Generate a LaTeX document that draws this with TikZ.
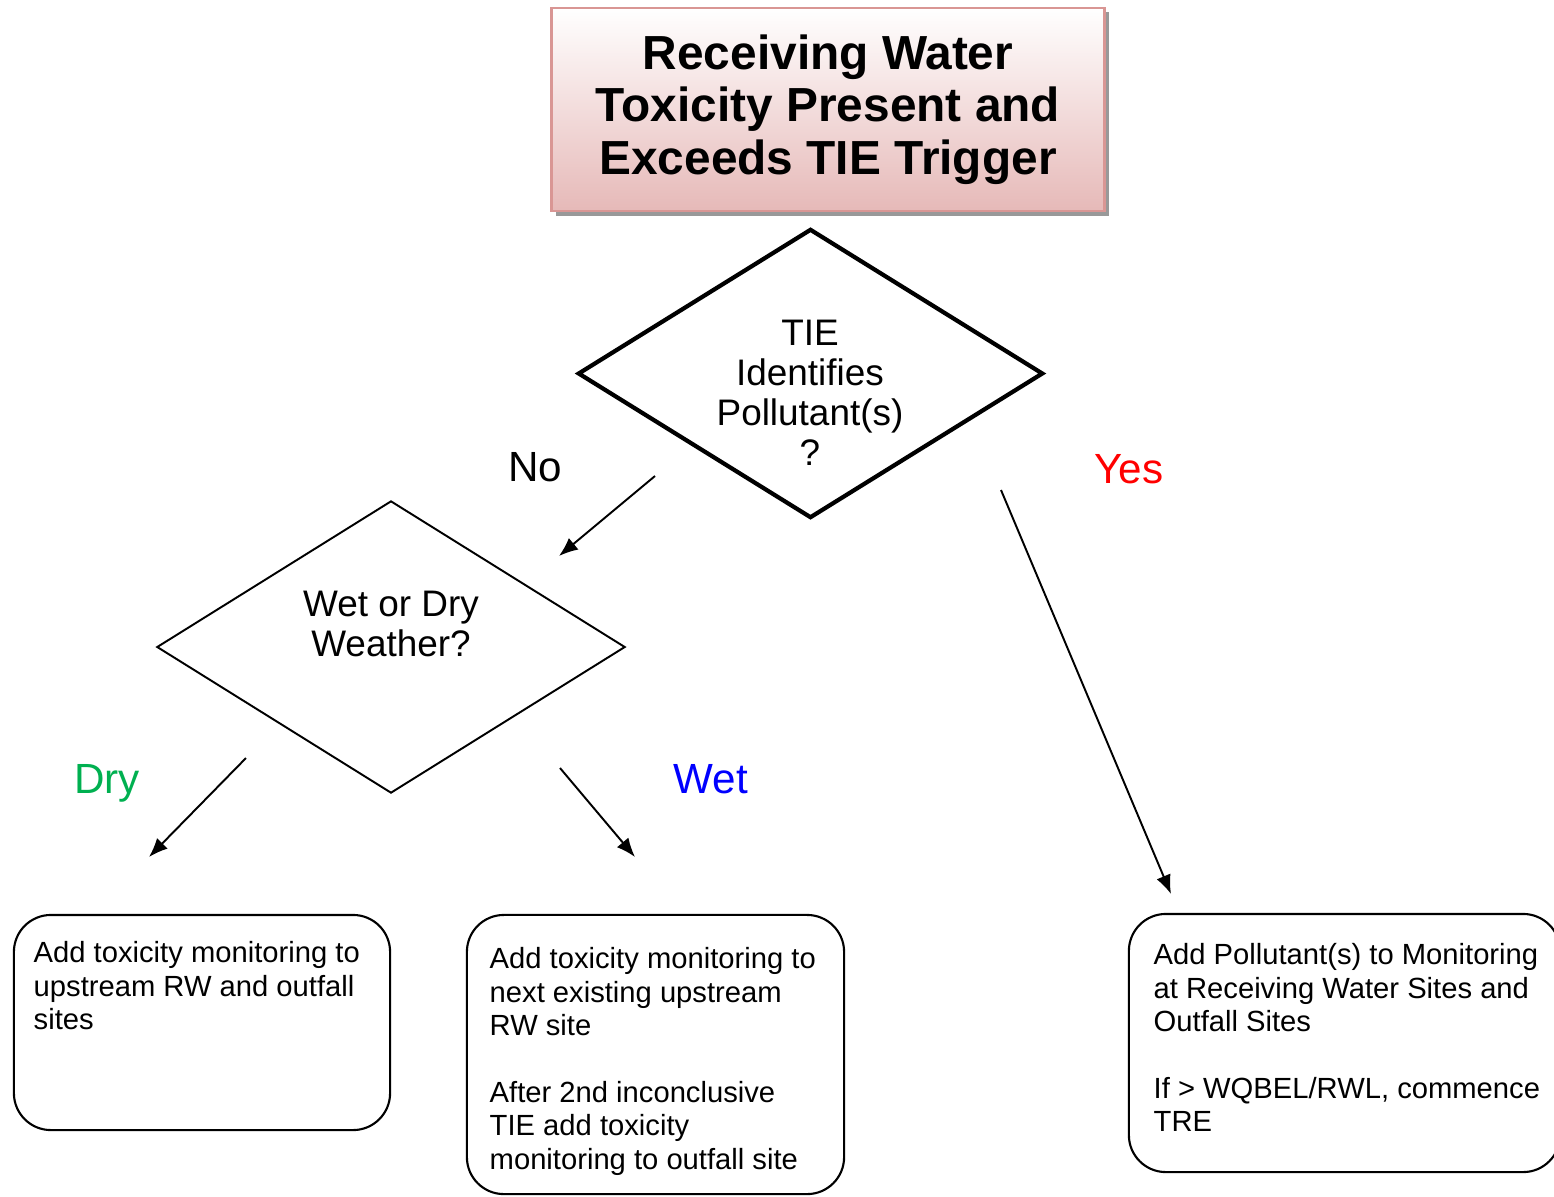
\documentclass[tikz,border=0pt]{standalone}
\usepackage{fontspec}
\setmainfont{Liberation Sans}
\usetikzlibrary{shapes.geometric,arrows.meta,shadows}

\definecolor{triggerpink}{HTML}{E6B9B8}
\definecolor{triggerborder}{HTML}{D99694}
\definecolor{yesred}{HTML}{FF0000}
\definecolor{drygreen}{HTML}{00B050}
\definecolor{wetblue}{HTML}{0000FF}

\begin{document}
\begin{tikzpicture}[x=0.01cm, y=-0.01cm,
    flowarrow/.style={-{Latex[length=1.9mm,width=1.5mm]}, line width=0.55pt},
    decision/.style={diamond, draw, inner sep=0pt},
    decisiontext/.style={anchor=north, inner sep=0pt, align=center, font=\fontsize{10.5}{11.4}\selectfont},
    actionbox/.style={draw, rounded corners=0.37cm, line width=0.6pt},
    actiontext/.style={anchor=north west, inner sep=0pt, align=left, font=\fontsize{8.3}{9.5}\selectfont},
    branchlabel/.style={inner sep=0pt, font=\fontsize{12}{14}\selectfont}]

        % Page size of the reference
        \useasboundingbox (0,0) rectangle (1554,1196);

        % Draw the trigger box on top
        \node[draw=triggerborder, line width=0.8pt, top color=white, bottom color=triggerpink,
              drop shadow={shadow xshift=0.45mm, shadow yshift=-0.45mm, fill=black!40, opacity=1},
              minimum width=5.52cm, minimum height=2.03cm, align=center,
              font=\bfseries\fontsize{13.6}{15}\selectfont] (trigger) at (828,109.5)
              {Receiving Water\\Toxicity Present and\\Exceeds TIE Trigger};

        % Draw the first decision (TIE result)
        \node[decision, line width=1.2pt, minimum width=4.65cm, minimum height=2.89cm] (tieq) at (810.5,373.5) {};
        \node[decisiontext] (tietext) at (810,319) {TIE\\Identifies\\Pollutant(s)\\?};

        % Draw the second decision (weather)
        \node[decision, line width=0.55pt, minimum width=4.68cm, minimum height=2.92cm] (weatherq) at (391,647) {};
        \node[decisiontext] (weathertext) at (391,590) {Wet or Dry\\Weather?};

        % Branch labels
        \node[branchlabel] (noLabel) at (535,467) {No};
        \node[branchlabel, text=yesred] (yesLabel) at (1129,469) {Yes};
        \node[branchlabel, text=drygreen] (dryLabel) at (107,783) {Dry};
        \node[branchlabel, text=wetblue] (wetLabel) at (711,779) {Wet};

        % Draw the action boxes
        \node[actionbox, minimum width=3.76cm, minimum height=2.15cm] (dryBox) at (202,1022.5) {};
        \node[actiontext] (dryText) at (33,941) {Add toxicity monitoring to\\upstream RW and outfall\\sites};

        \node[actionbox, minimum width=3.77cm, minimum height=2.79cm] (wetBox) at (655.5,1054.5) {};
        \node[actiontext] (wetText) at (489,947) {Add toxicity monitoring to\\next existing upstream\\RW site\\~\\After 2nd inconclusive\\TIE add toxicity\\monitoring to outfall site};

        \node[actionbox, minimum width=4.31cm, minimum height=2.58cm] (yesBox) at (1344.5,1043) {};
        \node[actiontext] (yesText) at (1153,943) {Add Pollutant(s) to Monitoring\\at Receiving Water Sites and\\Outfall Sites\\~\\If > WQBEL/RWL, commence\\TRE};

        % Arrow ends
        \coordinate (noFrom) at (655,476);
        \coordinate (noTo) at (559,556);
        \coordinate (yesFrom) at (1001,490);
        \coordinate (yesTo) at (1171,894);
        \coordinate (dryFrom) at (246,758);
        \coordinate (dryTo) at (149,857);
        \coordinate (wetFrom) at (560,768);
        \coordinate (wetTo) at (635,857);

        % Draw the arrows
        \draw[flowarrow] (noFrom) -- (noTo);
        \draw[flowarrow] (yesFrom) -- (yesTo);
        \draw[flowarrow] (dryFrom) -- (dryTo);
        \draw[flowarrow] (wetFrom) -- (wetTo);
    \end{tikzpicture}
\end{document}
